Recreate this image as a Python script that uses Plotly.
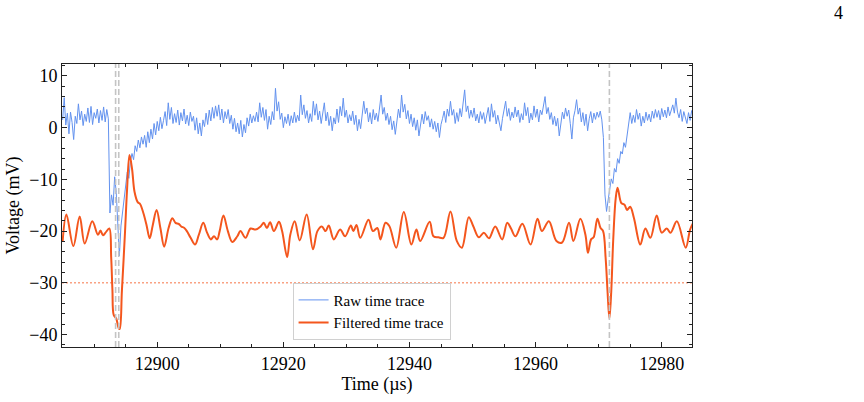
import numpy as np
import plotly.graph_objects as go

# ---------------- data ----------------
raw_t0 = 12885.0
raw_dt = 0.25
raw_v = [
    # 12885 - 12895
    1.5, 5.8, 0.5, 2.8, -1.2, 3.0, 1.0, -2.3, 2.2, 0.8,
    4.6, 1.5, 3.2, 0.4, 2.6, 1.2, 3.8, 1.0, 4.1, 0.6,
    2.9, 1.8, 3.6, 0.9, 3.3, 1.4, 4.0, 1.1, 3.5, 1.7,
    -16.5, -13.0, -15.0, -9.5, -12.5, -20.0, -24.8, -19.0, -16.5, -13.5,
    # 12895 - 12905
    -11.0, -8.6, -9.8, -6.5, -5.0, -6.2, -3.5, -4.6, -2.4, -3.9,
    -1.8, -3.2, -1.5, -3.8, -0.8, -2.9, -0.3, -2.2, 0.8, -1.4,
    1.2, -0.6, 2.0, -0.2, 1.4, 3.1, 0.4, 4.8, 1.6, 3.9,
    0.8, 2.7, 1.0, 3.4, 0.5, 2.9, 1.3, 3.6, 0.7, 2.4,
    # 12905 - 12915
    0.4, 3.0, 1.2, 2.2, -0.5, 1.9, -1.2, 0.9, -1.6, 1.5,
    0.2, 2.8, 0.6, 3.4, 1.3, 3.9, 1.8, 4.2, 2.2, 4.4,
    1.5, 3.6, 0.9, 3.1, 1.7, 3.5, 0.8, 2.4, -0.3, 1.8,
    -0.8, 0.9, -1.2, 1.4, -1.8, 0.6, -1.0, 1.9, 0.3, 2.6,
    # 12915 - 12925
    0.9, 2.3, 1.2, 3.0, 1.1, 4.8, 2.0, 3.9, 1.4, 3.5,
    -0.3, 2.2, 0.6, 3.1, 1.5, 7.6, 3.2, 5.0, 1.6, 2.8,
    0.0, 2.1, 0.8, 2.6, 0.4, 2.3, 0.9, 3.0, 1.0, 2.4,
    1.3, 6.3, 2.5, 4.4, 1.8, 3.3, 0.9, 2.7, 1.2, 5.1,
    # 12925 - 12935
    2.4, 4.6, 1.5, 3.2, 0.8, 2.9, 4.8, 1.3, 3.0, 0.4,
    2.2, -0.6, 1.9, 0.7, 3.6, 1.0, 4.1, 2.3, 5.7, 2.0,
    3.4, 0.9, 2.5, 1.3, 3.2, 0.6, 2.4, -0.6, 1.6, -0.2,
    2.3, 5.1, 2.7, 3.8, 1.1, 2.9, 0.7, 3.5, 1.5, 2.8,
    # 12935 - 12945
    1.2, 4.0, 6.3, 2.6, 3.9, 1.4, 2.8, 0.6, 2.2, -0.4,
    1.3, -1.3, 1.8, 3.6, 1.9, 6.3, 3.0, 4.5, 1.7, 3.3,
    0.8, 2.6, 0.2, 1.9, -0.5, 1.5, -1.6, 0.9, 2.6, 0.7,
    3.1, 1.4, 2.3, 0.1, 1.7, -0.3, 1.2, -0.8, 0.9, -1.9,
    # 12945 - 12955
    0.6, 1.8, 3.2, 1.0, 3.6, 2.2, 5.1, 2.4, 3.5, 0.8,
    2.9, 1.2, 3.7, 2.1, 4.6, 7.3, 3.1, 4.2, 1.8, 3.4,
    2.0, 3.8, 1.3, 2.6, 0.9, 3.1, 1.6, 2.9, 0.8, 2.5,
    3.9, 1.2, 4.6, 2.0, 3.3, 0.7, 2.4, 0.9, -0.6, 1.8,
    # 12955 - 12965
    3.5, 5.1, 2.2, 3.7, 1.4, 3.0, 1.9, 4.0, 2.1, 3.4,
    1.0, 2.7, 1.5, 4.8, 2.3, 3.9, 0.9, 2.8, 1.5, 4.2,
    2.0, 3.6, 1.1, 3.4, 2.5, 4.4, 6.0, 2.7, 3.9, 1.6,
    2.9, 0.6, 2.2, 0.3, 1.8, -1.6, 1.2, 3.0, 1.7, 3.8,
    # 12965 - 12975
    2.2, 3.4, 0.8, -2.2, 1.9, 3.3, 5.4, 2.6, 3.8, 1.1,
    2.9, 0.4, 2.6, -0.6, 1.7, 3.1, 0.9, 2.8, 1.6, 3.0,
    2.0, 3.2, 1.5, -1.9, -13.0, -16.2, -14.0, -11.5, -9.9, -10.8,
    -7.9, -8.6, -6.0, -6.9, -4.6, -5.1, -2.9, -3.8, -1.2, 0.3,
    # 12975 - 12985
    2.9, 0.8, 2.4, 1.0, 3.5, 1.6, 2.8, 0.3, 2.2, 0.9,
    3.0, 1.4, 2.6, 1.1, 3.2, 1.8, 3.5, 2.0, 3.3, 1.5,
    3.7, 2.1, 3.4, 1.9, 4.0, 2.3, 3.6, 4.4, 2.8, 5.7,
    3.0, 1.9, 3.5, 1.2, 3.1, 1.7, 0.8, 2.9, 1.4, 3.3,
    2.0,
]
raw_t = raw_t0 + raw_dt * np.arange(len(raw_v))

filt_t = [
    12885.0, 12885.6, 12886.7, 12887.7, 12888.5, 12889.7, 12890.6, 12891.0, 12891.4, 12891.8,
    12892.4, 12892.7, 12892.9, 12893.1, 12893.5, 12893.9, 12894.05, 12894.4, 12894.9, 12895.2,
    12895.6, 12896.0, 12896.4, 12896.9, 12897.3, 12897.8, 12898.3, 12898.8, 12899.3, 12899.9,
    12900.5, 12901.1, 12901.8, 12902.4, 12902.9, 12903.4, 12903.8, 12904.3, 12904.7, 12905.3,
    12906.0, 12906.6, 12907.3, 12907.9, 12908.5, 12909.0, 12909.5, 12909.9, 12910.5, 12911.2,
    12911.9, 12912.7, 12913.2, 12914.0, 12914.8, 12915.6, 12916.4, 12916.9, 12917.4, 12917.9,
    12918.5, 12919.3, 12919.8, 12920.6, 12921.1, 12921.8, 12922.6, 12923.7, 12924.7, 12925.4,
    12926.1, 12926.7, 12927.2, 12928.0, 12929.0, 12929.8, 12930.7, 12931.1, 12931.6, 12932.2,
    12933.5, 12934.2, 12934.9, 12935.4, 12936.2, 12936.8, 12937.9, 12939.1, 12940.3, 12941.1,
    12941.7, 12943.2, 12943.8, 12944.6, 12945.4, 12946.5, 12947.5, 12948.3, 12949.4, 12950.1,
    12951.0, 12951.8, 12952.6, 12953.6, 12954.7, 12955.5, 12956.1, 12956.8, 12957.9, 12959.2,
    12960.3, 12961.0, 12962.1, 12963.3, 12964.2, 12965.3, 12966.0, 12967.1, 12967.9, 12968.3,
    12968.8, 12969.2, 12969.8, 12970.3, 12970.7, 12971.1, 12971.4, 12971.7, 12972.0, 12972.3,
    12972.7, 12973.0, 12973.6, 12974.1, 12974.5, 12975.0, 12975.6, 12976.6, 12977.4, 12978.2,
    12979.2, 12980.0, 12980.8, 12981.4, 12982.4, 12983.8, 12984.5, 12985.0,
]
filt_v = [
    -22.0, -16.8, -22.9, -17.2, -22.4, -18.1, -20.7, -19.9, -20.8, -20.3,
    -19.5, -25.1, -31.5, -36.2, -36.9, -38.8, -38.9, -31.5, -20.0, -12.4,
    -5.3, -7.9, -12.4, -14.4, -14.8, -16.5, -18.8, -21.4, -18.8, -15.9,
    -19.4, -23.0, -19.4, -17.5, -18.4, -18.6, -19.1, -19.4, -20.0, -21.3,
    -22.6, -20.7, -18.4, -20.3, -21.6, -21.0, -21.6, -20.0, -17.0, -20.0,
    -22.1, -21.0, -20.0, -21.3, -19.5, -19.7, -19.1, -18.4, -19.4, -18.3,
    -20.0, -18.2, -20.0, -25.0, -20.7, -18.1, -21.8, -16.8, -23.5, -20.0,
    -19.1, -20.0, -18.9, -21.6, -19.7, -21.0, -18.9, -20.0, -18.8, -21.3,
    -17.8, -20.0, -19.4, -21.6, -18.4, -19.0, -23.2, -16.3, -22.6, -19.7,
    -21.9, -18.2, -21.0, -21.2, -21.3, -16.2, -21.9, -23.2, -17.3, -19.0,
    -21.2, -20.3, -21.4, -19.1, -21.6, -18.4, -19.5, -21.0, -18.6, -22.6,
    -17.6, -20.0, -18.1, -21.9, -22.2, -18.4, -21.9, -17.6, -20.7, -24.2,
    -21.6, -21.2, -17.6, -19.4, -20.0, -25.1, -31.5, -36.9, -31.5, -21.9,
    -13.7, -11.6, -14.6, -14.9, -15.9, -15.3, -17.5, -22.6, -19.5, -21.3,
    -17.0, -20.3, -19.5, -20.3, -18.1, -23.2, -19.7, -18.4,
]

event_times = [12893.4, 12893.9, 12971.7]
threshold = -30
x_range = [12884.9, 12984.8]
y_range = [-42.4, 12.3]
x_ticks = [12900, 12920, 12940, 12960, 12980]
y_ticks = [-40, -30, -20, -10, 0, 10]

# ---------------- figure ----------------
FONT = "Liberation Serif"
BLUE = "#5B8DEF"
ORANGE = "#F4561D"

fig = go.Figure()
fig.add_trace(go.Scatter(
    x=raw_t, y=raw_v, mode="lines", name="Raw time trace",
    line=dict(color=BLUE, width=1.0), opacity=0.95,
))
fig.add_trace(go.Scatter(
    x=filt_t, y=filt_v, mode="lines", name="Filtered time trace",
    line=dict(color=ORANGE, width=2, shape="spline", smoothing=1.0),
))

for et in event_times:
    fig.add_shape(type="line", xref="x", yref="paper", x0=et, x1=et, y0=0, y1=1,
                  line=dict(color="#C4C4C4", width=1.6, dash="6px,3px"), layer="above")
fig.add_shape(type="line", xref="paper", yref="y", x0=0, x1=1, y0=threshold, y1=threshold,
              line=dict(color="rgba(244,86,29,0.55)", width=1.5, dash="2px,2px"), layer="below")

axis_common = dict(
    showline=True, linecolor="#222", linewidth=1, mirror="allticks",
    ticks="inside", ticklen=5, tickwidth=1, tickcolor="#222",
    showgrid=False, zeroline=False,
    tickfont=dict(family=FONT, size=18, color="black"),
)
fig.update_xaxes(
    range=x_range, tickmode="array", tickvals=x_ticks, tickformat="d",
    minor=dict(dtick=5, ticks="inside", ticklen=3, tickcolor="#222", showgrid=False),
    title=dict(text="Time (µs)", font=dict(family=FONT, size=18, color="black"), standoff=4),
    **axis_common,
)
fig.update_yaxes(
    range=y_range, tickmode="array", tickvals=y_ticks,
    minor=dict(dtick=2, tick0=0, ticks="inside", ticklen=3, tickcolor="#222", showgrid=False),
    title=dict(text="Voltage (mV)", font=dict(family=FONT, size=18, color="black"), standoff=4),
    **axis_common,
)

fig.add_annotation(text="4", xref="paper", yref="paper", x=1.232, y=1.181,
                   showarrow=False, font=dict(family=FONT, size=18, color="black"),
                   xanchor="center", yanchor="middle")

fig.update_layout(
    width=864, height=402,
    margin=dict(l=62, r=172, t=64, b=51),
    plot_bgcolor="white", paper_bgcolor="white",
    font=dict(family=FONT, color="black"),
    legend=dict(
        x=0.366, y=0.026, xanchor="left", yanchor="bottom",
        bgcolor="rgba(255,255,255,0.85)", bordercolor="#D0D0D0", borderwidth=1,
        font=dict(family=FONT, size=15, color="black"),
    ),
    showlegend=True,
)

fig.write_html("out.html")
